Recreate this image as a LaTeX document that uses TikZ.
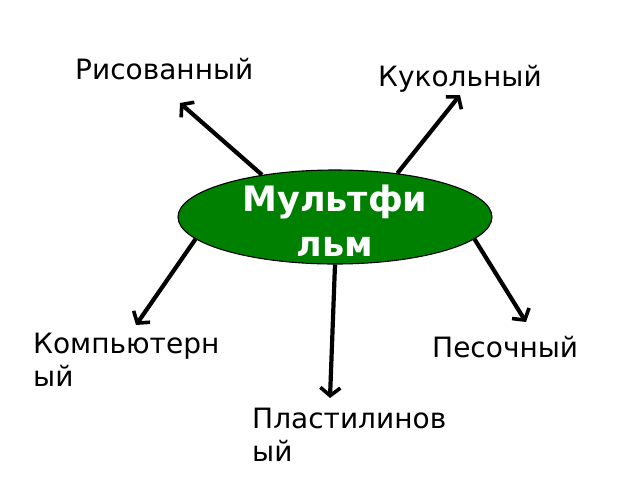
\documentclass[tikz,border=0pt]{standalone}
\usepackage{fontspec}
\setmainfont{DejaVu Sans}
\usetikzlibrary{arrows.meta,shapes.geometric}
\definecolor{filmgreen}{RGB}{0,128,0}
\begin{document}
\begin{tikzpicture}[x=1pt,y=-1pt,
  lbl/.style={inner sep=0pt,font=\fontsize{28}{33}\selectfont,align=left},
  arr/.style={line width=4.2pt,-{Straight Barb[length=8pt,width=20pt,line width=3.6pt]}},
  hub/.style={ellipse,draw=black,line width=1.1pt,fill=filmgreen,minimum width=314pt,minimum height=94pt,inner xsep=0pt,inner ysep=-20pt,text=white,align=center,font=\bfseries\fontsize{35}{45}\selectfont}]
\useasboundingbox (0,0) rectangle (640,480);
\node[hub] (m) at (335,217) {\rule{0pt}{33pt}Мультфи\\льм};
\coordinate (t1) at (180,103);
\coordinate (t2) at (460,95);
\coordinate (t3) at (136,325);
\coordinate (t4) at (330,398);
\coordinate (t5) at (526,322);
\draw[arr] (m.150.7) -- (t1);
\draw[arr] (m.35.2) -- (t2);
\draw[arr] (m.-171.6) -- (t3);
\draw[arr] (m.-90) -- (t4);
\draw[arr] (m.-9.2) -- (t5);
\node[lbl,anchor=base west] (l1) at (75,79) {Рисованный};
\node[lbl,anchor=base west] (l2) at (378,86) {Кукольный};
\node[lbl,anchor=north west] (l3) at (33,333) {Компьютерн\\ый};
\node[lbl,anchor=base west] (l5) at (432,357) {Песочный};
\node[lbl,anchor=north west] (l4) at (252,408) {Пластилинов\\ый};
\end{tikzpicture}
\end{document}
